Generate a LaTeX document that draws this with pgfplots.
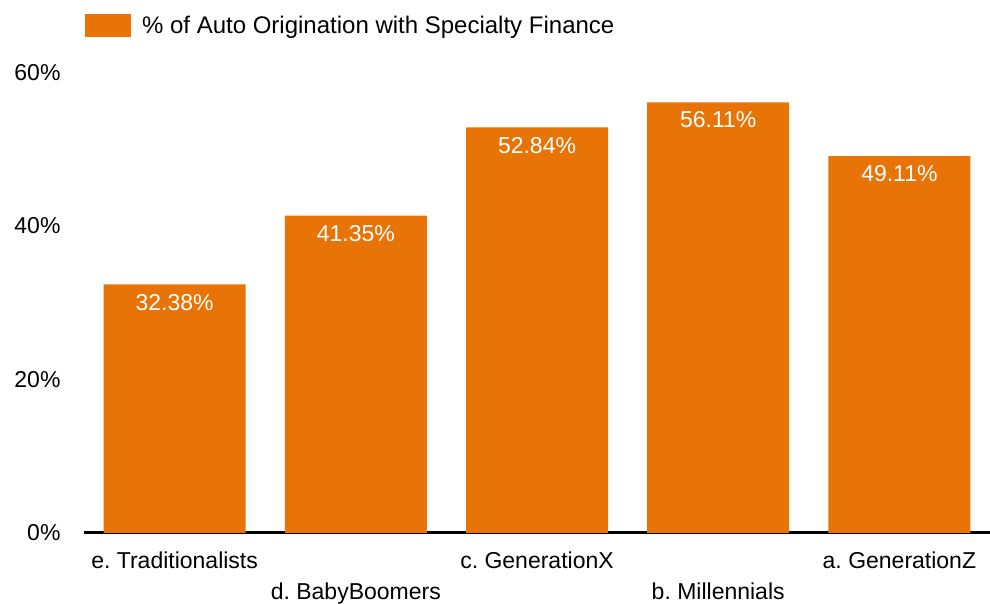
\documentclass[border=0pt]{standalone}
\usepackage{pgfplots}
\pgfplotsset{compat=1.18}
\usepackage{fontspec}
\setmainfont{Liberation Sans}
\definecolor{barorange}{HTML}{E87407}
\begin{document}
\frenchspacing
\begin{tikzpicture}
\begin{axis}[
  scale only axis,
  width=906pt, height=460.5pt,
  xmin=-0.5, xmax=4.5,
  ymin=0, ymax=60,
  ytick={0,20,40,60},
  yticklabel={\pgfmathprintnumber{\tick}\%},
  /pgf/number format/assume math mode=true,
  xtick={0,2,4},
  xticklabels={e.\ Traditionalists, c.\ GenerationX, a.\ GenerationZ},
  extra x ticks={1,3},
  extra x tick labels={d.\ BabyBoomers, b.\ Millennials},
  extra x tick style={xticklabel style={yshift=-31pt}},
  xticklabel style={yshift=-15pt},
  yticklabel style={xshift=-20pt},
  axis x line*=bottom,
  axis y line*=left,
  y axis line style={draw=none},
  x axis line style={line width=3pt},
  major tick length=0pt,
  tick style={draw=none},
  ticklabel style={font=\fontsize{23}{27}\selectfont},
  ybar, bar width=142pt,
  legend style={at={(0.001,1.102)}, anchor=west, draw=none, fill=none,
    inner xsep=0pt, inner ysep=0pt,
    font=\fontsize{24}{28}\selectfont,
    nodes={inner xsep=11pt}},
  legend image code/.code={\fill[barorange] (0pt,-11.5pt) rectangle (46pt,11.5pt);},
  nodes near coords={\pgfmathprintnumber[fixed,precision=2,fixed zerofill]{\pgfplotspointmeta}\%},
  nodes near coords style={anchor=north, yshift=-6pt, text=white, font=\fontsize{23}{27}\selectfont,
    /pgf/number format/assume math mode=true},
  clip=false,
]
\addplot[fill=barorange, draw=none] coordinates {(0,32.38) (1,41.35) (2,52.84) (3,56.11) (4,49.11)};
\legend{\% of Auto Origination with Specialty Finance}
\coordinate (o) at (rel axis cs:0,0);
\end{axis}
\pgfresetboundingbox
\path ([shift={(-84pt,-71pt)}]o) rectangle ([shift={(906pt,533pt)}]o);
\end{tikzpicture}
\end{document}
